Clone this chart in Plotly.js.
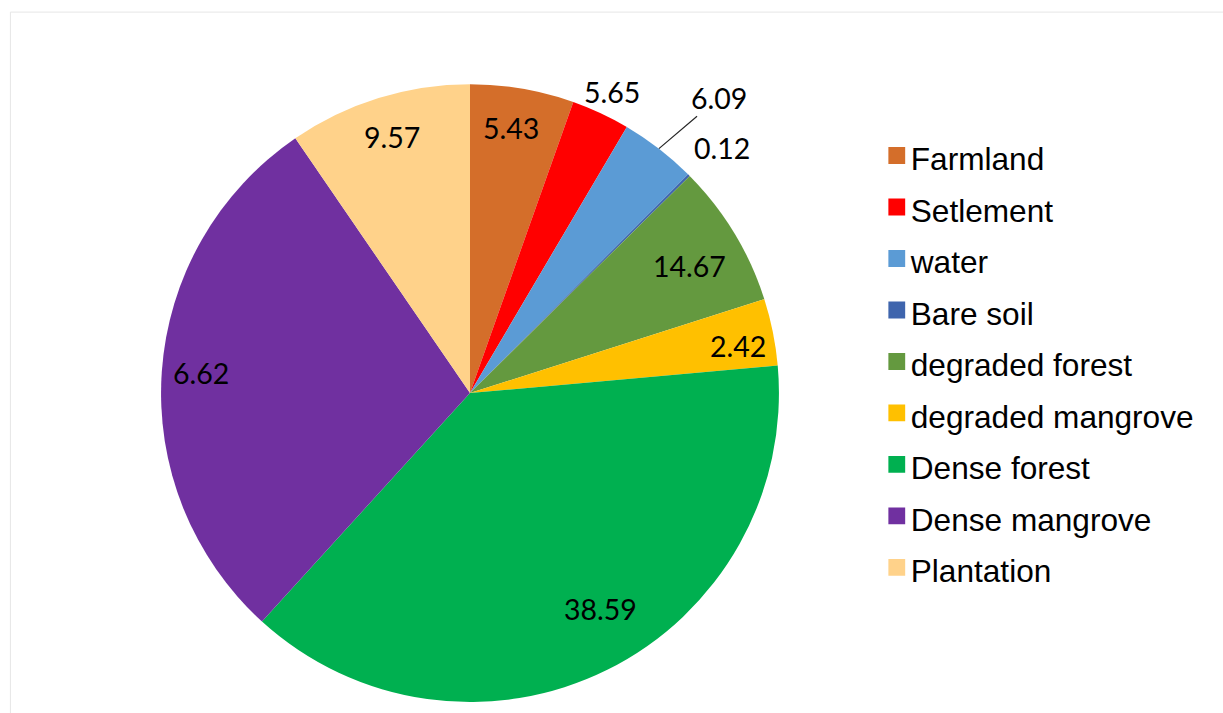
<!DOCTYPE html>
<html>
<head>
<meta charset="utf-8">
<script src="https://cdn.plot.ly/plotly-3.0.1.min.js"></script>
<style>
html,body{margin:0;padding:0;background:#fff;}
#chart{width:1223px;height:713px;}
</style>
</head>
<body>
<div id="chart"></div>
<script>
// Categories (legend order)
var categories = ["Farmland", "Setlement", "water", "Bare soil", "degraded forest",
                  "degraded mangrove", "Dense forest", "Dense mangrove", "Plantation"];
// Slice sizes as drawn (estimated from the picture's angles)
var sliceValues = [5.43, 3.05, 4.0, 0.12, 7.5, 3.5, 38.2, 28.7, 9.57];
// Data labels as printed on the chart
var labelTexts = ["5.43", "5.65", "6.09", "0.12", "14.67", "2.42", "38.59", "6.62", "9.57"];

// styling
var colors = ["#D46E2A", "#FF0000", "#5B9BD5", "#3F65AD", "#64993F",
              "#FFC000", "#00B050", "#7030A0", "#FFD28A"];
var labelRadius = [0.868, 1.077, 1.25, 1.137, 0.821, 0.88, 0.817, 0.873, 0.866]; // fraction of pie radius
var labelAngleNudge = [-1.0, 0.3, 2.4, 0.7, 1.1, 1.5, -4.7, 0.4, 0.2];          // degrees
var leaderLine = [false, false, true, false, false, false, false, false, false];

var W = 1223, H = 713;
var dom = {x: [0.1316, 0.637], y: [0.0154, 0.882]};
var labelFont = {family: "Lato, 'Open Sans', sans-serif", size: 28.5, color: "#000"};

var trace = {
  type: "pie",
  labels: categories.map(function(c){
    return '<span style="font-size:31.6px;font-family:Liberation Sans, Arial, sans-serif">' + c + '</span>';
  }),
  values: sliceValues,
  textinfo: "none",
  sort: false,
  direction: "clockwise",
  rotation: 0,
  marker: {colors: colors, line: {width: 0}},
  domain: dom,
  hoverinfo: "label+value",
  automargin: false
};

// place data labels at each slice's mid-angle (from the values)
var total = sliceValues.reduce(function(a, b){ return a + b; }, 0);
var cx = (dom.x[0] + dom.x[1]) / 2 * W;
var cy = (1 - (dom.y[0] + dom.y[1]) / 2) * H;
var R = Math.min((dom.x[1] - dom.x[0]) * W, (dom.y[1] - dom.y[0]) * H) / 2;
var annotations = [];
var cum = 0;
sliceValues.forEach(function(v, i){
  var midDeg = (cum + v / 2) / total * 360;
  cum += v;
  var a = (midDeg + labelAngleNudge[i]) * Math.PI / 180;
  var px = cx + R * labelRadius[i] * Math.sin(a);
  var py = cy - R * labelRadius[i] * Math.cos(a);
  if (leaderLine[i]) {
    var am = midDeg * Math.PI / 180;
    var ex = cx + R * Math.sin(am), ey = cy - R * Math.cos(am);
    annotations.push({
      xref: "paper", yref: "paper", x: ex / W, y: 1 - ey / H,
      ax: px - ex, ay: py - ey, axref: "pixel", ayref: "pixel",
      text: labelTexts[i], showarrow: true, arrowhead: 0, arrowwidth: 1.2,
      arrowcolor: "#262626", standoff: 0, font: labelFont,
      xanchor: "center", yanchor: "middle"
    });
  } else {
    annotations.push({
      xref: "paper", yref: "paper", x: px / W, y: 1 - py / H,
      text: labelTexts[i], showarrow: false, font: labelFont,
      xanchor: "center", yanchor: "middle"
    });
  }
});

var layout = {
  width: W,
  height: H,
  margin: {l: 0, r: 0, t: 0, b: 0},
  paper_bgcolor: "#ffffff",
  showlegend: true,
  legend: {
    x: 0.712, y: 0.825, xanchor: "left", yanchor: "top",
    font: {family: "Liberation Sans, Arial, sans-serif", size: 37.3, color: "#000"},
    bgcolor: "rgba(0,0,0,0)"
  },
  annotations: annotations,
  shapes: [{
    type: "rect", xref: "paper", yref: "paper",
    x0: 0.0085, x1: 1.2, y0: -0.1, y1: 0.983,
    line: {color: "#E6E6E6", width: 1}, fillcolor: "rgba(0,0,0,0)", layer: "below"
  }]
};

Plotly.newPlot("chart", [trace], layout, {displayModeBar: false, staticPlot: true}).then(function(gd){
  // enlarge the legend colour keys and move them closer to their text, as in the reference
  gd.querySelectorAll(".legendpoints path").forEach(function(p){
    var t = p.getAttribute("transform") || "";
    p.setAttribute("transform", t + " translate(6,0) scale(1.4)");
  });
});
</script>
</body>
</html>
